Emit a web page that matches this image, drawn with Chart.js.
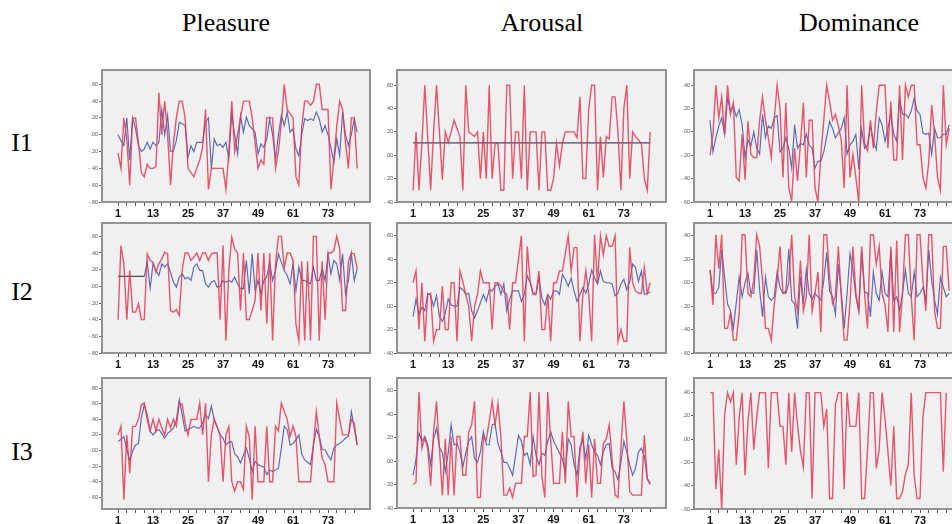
<!DOCTYPE html>
<html>
<head>
<meta charset="utf-8">
<script src="https://cdn.jsdelivr.net/npm/chart.js@4/dist/chart.umd.min.js"></script>
<style>
html, body { margin: 0; padding: 0; background: #fff; }
#page { position: relative; width: 952px; height: 524px; overflow: hidden; background: #fff; }
.title { position: absolute; width: 200px; height: 30px; line-height: 30px; text-align: center;
  font-family: "Liberation Serif", "DejaVu Serif", serif; font-size: 26px; color: #000; }
.row { position: absolute; width: 40px; height: 30px; line-height: 30px; text-align: center;
  font-family: "Liberation Serif", "DejaVu Serif", serif; font-size: 26px; color: #000; }
canvas { position: absolute; }
</style>
</head>
<body>
<div id="page">
  <div class="title" style="left:126px; top:8px;">Pleasure</div>
  <div class="title" style="left:442px; top:8px;">Arousal</div>
  <div class="title" style="left:759px; top:8px;">Dominance</div>
  <div class="row" style="left:2px; top:128px;">I1</div>
  <div class="row" style="left:2px; top:277px;">I2</div>
  <div class="row" style="left:2px; top:437px;">I3</div>
</div>
<script>
var xTicks = [1,4,7,10,13,16,19,22,25,28,31,34,37,40,43,46,49,52,55,58,61,64,67,70,73,76,79,82];
var xLabels = [1,13,25,37,49,61,73];
var pleasureTicks = [-80,-60,-40,-20,0,20,40,60];
var pleasureI3Ticks = [-60,-40,-20,0,20,40,60,80];
var arousalTicks = [-40,-20,0,20,40,60];
var dominanceTicks = [-60,-40,-20,0,20,40];

var pleasureI1Red = [-22,-40,20,-5,-60,20,20,-10,-45,-50,-35,-40,-40,-38,50,0,40,0,-60,-10,20,40,40,20,-40,-45,-50,-40,-30,-15,30,-65,-40,-40,-40,-40,-40,-65,-20,40,-20,0,20,40,40,40,20,-10,-40,-30,-35,20,20,20,-40,-20,15,60,30,25,20,-50,-60,10,40,40,35,40,60,60,30,30,30,-65,-30,10,40,30,-10,-40,20,20,-40];
var pleasureI1Blue = [0,-7,-13,20,-30,20,7,-13,-20,-17,-9,-17,-9,-13,-9,30,0,23,-20,-19,-7,15,13,11,-27,-13,-20,-9,-9,-9,15,20,-40,-5,-13,-11,-15,-9,-29,25,0,-23,23,3,21,11,7,3,-23,-11,-15,-5,19,0,-29,0,23,11,27,3,7,-17,-25,0,19,17,19,17,27,19,3,11,0,-15,-33,-5,-25,27,0,-13,0,19,3];

var arousalI1Red = [-30,20,-30,10,60,15,-30,20,60,20,-21,20,11,20,30,23,16,-30,60,20,18,16,20,-20,20,-20,60,-20,10,10,-30,-30,60,60,-20,20,20,-20,60,-30,20,20,20,-30,20,20,-30,-30,-20,10,-9,10,20,20,20,20,15,50,-20,-20,40,60,60,-30,16,-19,16,14,50,50,20,-30,40,60,-20,20,16,13,10,-20,-30,20];
var arousalI1Blue = [10.6,10.6,10.6,10.6,10.6,10.6,10.6,10.6,10.6,10.6,10.6,10.6,10.6,10.6,10.6,10.6,10.6,10.6,10.6,10.6,10.6,10.6,10.6,10.6,10.6,10.6,10.6,10.6,10.6,10.6,10.6,10.6,10.6,10.6,10.6,10.6,10.6,10.6,10.6,10.6,10.6,10.6,10.6,10.6,10.6,10.6,10.6,10.6,10.6,10.6,10.6,10.6,10.6,10.6,10.6,10.6,10.6,10.6,10.6,10.6,10.6,10.6,10.6,10.6,10.6,10.6,10.6,10.6,10.6,10.6,10.6,10.6,10.6,10.6,10.6,10.6,10.6,10.6,10.6,10.6,10.6,10.6];

var dominanceI1Red = [-20,-2,40,12,30,-2,40,15,25,-39,-42,-2,-41,9,-19,-22,-22,10,30,10,-5,-22,10,40,20,-39,25,-48,-59,-14,-42,-10,25,-39,10,10,-48,-60,-19,10,40,26,10,15,5,-7,-48,40,-39,-19,-39,-60,40,-10,-16,10,-14,17,40,40,40,-14,26,-24,-24,40,-24,40,30,40,40,-11,-11,-39,-48,-26,23,-2,-39,-50,40,-11,3];
var dominanceI1Blue = [10,-17,-5,5,12,-2,29,18,22,13,19,6,-22,-7,-12,0,-14,-19,15,-5,5,3,12,14,-17,-14,-5,-14,-31,6,-14,-10,-11,-2,-11,-14,-31,-25,-25,-17,-4,9,3,-5,-1,3,12,-19,-11,-8,-2,-32,2,-14,-11,5,-8,-15,12,6,-8,3,15,-2,-8,28,15,15,12,18,29,18,15,-1,-2,-1,-19,3,-5,-5,-2,-2,6];

var pleasureI2Red = [-40,49,27,-40,19,-31,-31,-21,-40,-40,39,31,29,17,27,33,41,39,-29,-31,-28,-35,20,40,40,31,35,40,31,40,40,31,39,40,40,-40,49,-65,20,59,45,40,-29,40,-40,-40,-29,-17,40,-29,40,-45,40,-65,27,60,60,23,40,40,31,-45,-65,30,-65,30,-65,60,60,-65,30,-40,40,40,43,60,45,-29,-29,30,40,39,21];
var pleasureI2Blue = [12,12,12,12,12,12,12,12,12,12,29,-2,27,19,13,27,23,27,17,5,-1,11,15,9,11,7,23,27,19,19,3,-1,5,7,-1,0,7,5,7,5,11,3,-3,-3,31,-9,39,-5,7,-9,7,11,29,7,19,39,29,19,13,3,27,-5,23,7,7,5,3,23,7,7,21,7,39,15,31,27,7,39,-9,7,39,7,21];

var arousalI2Red = [20,30,-20,20,-30,10,11,-30,-20,-20,17,-20,-20,20,20,-30,30,21,10,0,-30,0,10,30,20,20,20,-20,20,20,17,12,10,-20,20,20,40,60,-30,51,21,10,10,30,-20,-20,10,-30,20,20,30,30,45,60,30,50,50,-30,10,30,10,-30,61,20,60,44,60,51,51,60,-30,-20,-30,-30,50,20,13,11,11,33,11,20];
var arousalI2Blue = [-9,6,-7,-1,-4,11,9,0,9,-9,-13,-6,6,1,0,0,16,14,10,11,-4,-10,-4,3,10,4,14,13,17,19,10,19,-4,6,13,13,13,4,10,26,20,11,11,24,7,1,10,6,13,13,10,27,23,17,24,13,4,10,16,11,19,31,24,19,30,21,20,20,19,9,11,19,23,14,21,36,33,21,30,10,11,12];

var dominanceI2Red = [11,-19,41,12,41,-39,-39,-26,-49,-49,-26,41,41,-9,-12,2,41,31,2,-39,-39,-49,-19,2,31,-9,-9,0,41,-12,-24,19,-24,-12,41,-24,-9,9,-42,41,41,5,-18,-12,31,-12,-49,-49,-17,31,-9,-24,31,-9,-39,41,41,16,31,-9,-19,-42,31,-42,36,-42,-9,41,41,-12,-49,41,41,2,-24,41,41,-24,-39,-39,31,31,-7];
var dominanceI2Blue = [11,-9,-9,-4,28,5,-18,-24,-39,-17,5,-12,0,8,-9,-9,28,-6,-29,5,-12,-15,-12,9,-4,-9,-7,29,-15,-18,-39,5,-18,11,-9,-14,-9,-12,-15,2,26,-7,-12,-27,16,-8,-39,-9,25,11,-12,-24,27,-8,-9,-29,9,-9,-15,9,-9,-12,28,-15,-12,-24,-9,11,-9,-12,9,-12,-9,-4,-15,28,2,-15,-27,5,-4,-12,-9];

var pleasureI3Red = [20,31,-63,20,-29,31,31,40,59,61,40,25,40,25,40,29,20,40,29,40,31,61,59,35,20,40,40,40,61,20,61,-40,20,40,30,20,-40,20,31,-40,-52,-40,-40,-50,31,18,-63,31,-40,-40,-40,31,-40,-40,31,25,61,50,40,18,31,18,-40,-40,-40,-40,-40,7,50,18,-10,-18,-40,-40,-40,61,40,20,20,20,40,35,7];
var pleasureI3Blue = [12,14,18,1,-12,-1,7,9,42,59,46,25,20,25,27,22,16,22,25,29,39,65,46,25,27,29,31,29,29,35,46,41,57,39,30,20,16,7,11,11,-4,-8,-16,-6,3,-10,-27,-14,-18,-20,-21,-31,-25,-27,-25,-23,3,31,27,7,9,14,20,-5,-12,-15,-18,7,27,18,1,1,-6,-12,3,7,9,12,16,18,50,29,7];

var arousalI3Red = [-20,-18,59,11,20,11,-21,25,51,11,-29,19,-29,21,-29,21,21,-12,-12,25,31,51,-31,-31,21,18,34,51,31,49,21,-29,-29,-23,-31,-19,-19,-19,21,21,59,-13,-12,59,-13,-31,59,18,-19,-19,-19,25,-19,51,21,21,-31,7,25,-19,14,-31,19,-19,-19,15,19,31,2,-29,-31,11,51,18,-26,-29,-29,-29,-29,22,-15,-20];
var arousalI3Blue = [-12,2,24,17,21,14,-3,19,28,12,7,-9,7,31,14,15,8,-5,7,17,21,2,-1,8,25,14,14,31,32,15,8,-1,-1,-6,-12,5,22,17,5,7,-3,21,5,-3,7,5,17,25,17,12,7,2,-9,19,14,-3,-12,12,18,2,22,14,8,5,-3,8,14,15,-6,-9,-16,-1,17,8,-3,-12,-6,8,11,4,-15,-19];

var dominanceI3Red = [40,40,-43,-9,-60,21,40,32,40,-22,19,40,-31,15,40,-9,19,40,40,40,-25,40,40,40,11,11,-22,40,-11,40,12,-10,-24,40,40,-51,40,40,40,11,26,-51,-51,30,40,40,-43,40,11,11,11,40,-51,-51,-9,40,40,-25,-9,40,18,-11,-40,11,-51,-51,-45,-30,-22,40,-31,-51,-51,19,40,40,40,40,40,40,-28,40];

var redColor = "rgba(228,58,84,0.85)";
var blueColor = "rgb(96,108,182)";
var flatColor = "rgb(64,70,100)";

var panels = [
	{ left: 102, top: 70, width: 268, height: 132, red: pleasureI1Red, blue: pleasureI1Blue, yMin: -80, yMax: 77, yTicks: pleasureTicks },
	{ left: 397, top: 70, width: 269, height: 132, red: arousalI1Red, blue: arousalI1Blue, yMin: -40, yMax: 73, yTicks: arousalTicks, flat: true },
	{ left: 694, top: 70, width: 268, height: 132, red: dominanceI1Red, blue: dominanceI1Blue, yMin: -60, yMax: 53, yTicks: dominanceTicks },
	{ left: 102, top: 223, width: 268, height: 130, red: pleasureI2Red, blue: pleasureI2Blue, yMin: -80, yMax: 76, yTicks: pleasureTicks, flat: true },
	{ left: 397, top: 223, width: 269, height: 130, red: arousalI2Red, blue: arousalI2Blue, yMin: -40, yMax: 71, yTicks: arousalTicks },
	{ left: 694, top: 223, width: 268, height: 130, red: dominanceI2Red, blue: dominanceI2Blue, yMin: -60, yMax: 51, yTicks: dominanceTicks },
	{ left: 102, top: 378, width: 268, height: 131, red: pleasureI3Red, blue: pleasureI3Blue, yMin: -75, yMax: 93, yTicks: pleasureI3Ticks },
	{ left: 397, top: 378, width: 269, height: 130, red: arousalI3Red, blue: arousalI3Blue, yMin: -40, yMax: 71, yTicks: arousalTicks },
	{ left: 694, top: 378, width: 268, height: 131, red: dominanceI3Red, blue: null, yMin: -60, yMax: 52.6, yTicks: dominanceTicks }
];

var framePlugin = {
	id: "frame",
	beforeDraw: function(chart) {
		var a = chart.chartArea, ctx = chart.ctx;
		ctx.save();
		ctx.fillStyle = "#f0f0f0";
		ctx.fillRect(a.left, a.top, a.right - a.left, a.bottom - a.top);
		ctx.restore();
	},
	afterDraw: function(chart) {
		var a = chart.chartArea, ctx = chart.ctx;
		ctx.save();
		ctx.strokeStyle = "#939393";
		ctx.lineWidth = 2;
		ctx.strokeRect(a.left, a.top, a.right - a.left, a.bottom - a.top);
		ctx.restore();
	}
};

function toPoints(values) {
	var pts = [];
	for (var i = 0; i < values.length; i++) {
		pts.push({ x: i + 1, y: values[i] });
	}
	return pts;
}

function yLabel(v) {
	if (v === 0)
		return ".00";
	return (v < 0 ? "-." : ".") + Math.abs(v);
}

function makePanel(p) {
	var padL = 32, padT = 6, padR = 6, padB = 22;
	var canvas = document.createElement("canvas");
	canvas.width = p.width + padL + padR;
	canvas.height = p.height + padT + padB;
	canvas.style.left = (p.left - padL) + "px";
	canvas.style.top = (p.top - padT) + "px";
	canvas.style.width = canvas.width + "px";
	canvas.style.height = canvas.height + "px";
	document.getElementById("page").appendChild(canvas);

	var datasets = [{
		data: toPoints(p.red),
		borderColor: redColor,
		borderWidth: 1.4,
		pointRadius: 0,
		tension: 0
	}];
	if (p.blue) {
		var blueSet = {
			data: toPoints(p.blue),
			borderColor: blueColor,
			borderWidth: 1.2,
			pointRadius: 0,
			tension: 0
		};
		if (p.flat) {
			blueSet.segment = {
				borderColor: function(ctx) {
					return ctx.p0.parsed.y === ctx.p1.parsed.y ? flatColor : undefined;
				}
			};
		}
		datasets.push(blueSet);
	}

	new Chart(canvas.getContext("2d"), {
		type: "line",
		data: { datasets: datasets },
		options: {
			responsive: false,
			animation: false,
			events: [],
			layout: { padding: { top: padT, right: padR, left: 0, bottom: 0 } },
			plugins: { legend: { display: false }, tooltip: { enabled: false } },
			scales: {
				x: {
					type: "linear",
					min: -4.5,
					max: 87.4,
					afterFit: function(s) { s.height = padB; },
					afterBuildTicks: function(s) {
						s.ticks = xTicks.map(function(v) { return { value: v }; });
					},
					border: { display: false },
					grid: { drawOnChartArea: false, tickLength: 4, color: "#555", lineWidth: 1 },
					ticks: {
						padding: 1,
						autoSkip: false,
						maxRotation: 0,
						color: "#111",
						font: { family: "Liberation Sans", size: 11, weight: "bold" },
						callback: function(v) { return xLabels.indexOf(v) >= 0 ? String(v) : ""; }
					}
				},
				y: {
					min: p.yMin,
					max: p.yMax,
					afterFit: function(s) { s.width = padL; },
					afterBuildTicks: function(s) {
						s.ticks = p.yTicks.map(function(v) { return { value: v }; });
					},
					border: { display: false },
					grid: { drawOnChartArea: false, tickLength: 3, color: "#666", lineWidth: 1 },
					ticks: {
						padding: 1,
						color: "#555",
						font: { family: "Liberation Sans", size: 5.5 },
						callback: yLabel
					}
				}
			}
		},
		plugins: [framePlugin]
	});
}

panels.forEach(makePanel);
</script>
</body>
</html>
